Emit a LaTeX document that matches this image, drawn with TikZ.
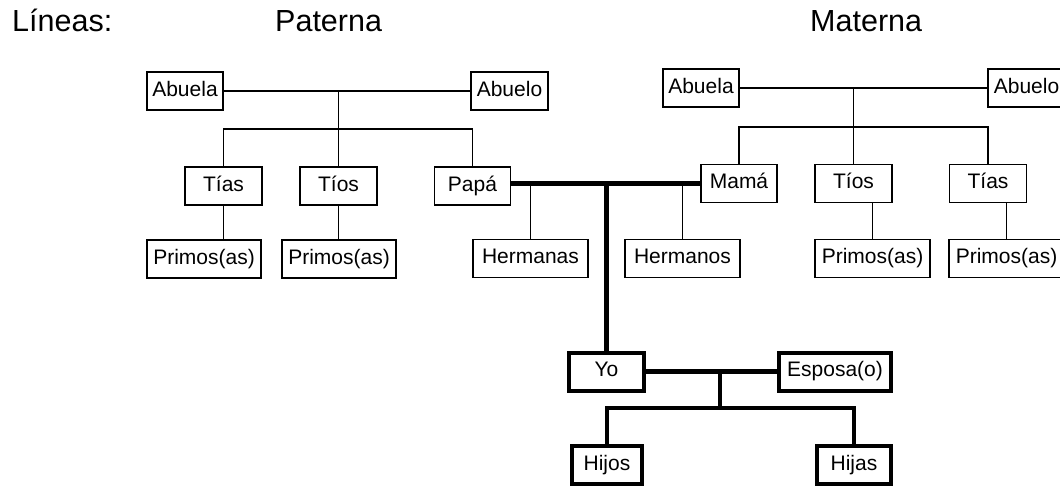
\documentclass[tikz,border=0pt]{standalone}
\usepackage{fontspec}
\setmainfont{Liberation Sans}
\begin{document}
\begin{tikzpicture}[x=1pt,y=-1pt,
  box/.style={draw=black,line width=1.3pt,rectangle,inner sep=0pt,minimum height=38pt,
    font=\fontsize{21}{24}\selectfont,text height=15pt,text depth=4.5pt,align=center},
  bbox/.style={box,line width=4pt},
  thin/.style={line width=1.3pt},
  heavy/.style={line width=4.5pt},
  title/.style={anchor=base west,inner sep=0pt,font=\fontsize{30.5}{34}\selectfont}]
\useasboundingbox (0,0) rectangle (1060,487);
\fill[white] (0,0) rectangle (1060,487);

% titles
\node[title] (tl) at (12,32) {Líneas:};
\node[title] (tp) at (275,32) {Paterna};
\node[title] (tm) at (810,32) {Materna};

% paternal
\node[box,minimum width=76pt] (pabuela) at (185,91) {Abuela};
\node[box,minimum width=77pt] (pabuelo) at (509.5,91) {Abuelo};
\node[box,minimum width=77pt] (ptias) at (223.5,186) {Tías};
\node[box,minimum width=77pt] (ptios) at (338.5,186) {Tíos};
\node[box,minimum width=76pt] (papa) at (472.5,186) {Papá};
\node[box,minimum width=114pt] (pprimos1) at (204,259) {Primos(as)};
\node[box,minimum width=114pt] (pprimos2) at (339,259) {Primos(as)};
\node[box,minimum width=115pt] (hermanas) at (530.5,258.5) {Hermanas};

% maternal
\node[box,minimum width=76pt] (mabuela) at (701,88) {Abuela};
\node[box,minimum width=77pt] (mabuelo) at (1026.5,88) {Abuelo};
\node[box,minimum width=76pt] (mama) at (739,183.5) {Mamá};
\node[box,minimum width=77pt] (mtios) at (853.5,183.5) {Tíos};
\node[box,minimum width=77pt] (mtias) at (988,183.5) {Tías};
\node[box,minimum width=115pt] (hermanos) at (682.5,258.5) {Hermanos};
\node[box,minimum width=115pt] (mprimos1) at (872.5,258.5) {Primos(as)};
\node[box,minimum width=115pt] (mprimos2) at (1006.5,258.5) {Primos(as)};

% own family
\node[bbox,minimum width=75pt] (yo) at (606.5,371.5) {Yo};
\node[bbox,minimum width=112pt] (esposa) at (835,371.5) {Esposa(o)};
\node[bbox,minimum width=70pt] (hijos) at (607,465) {Hijos};
\node[bbox,minimum width=74pt] (hijas) at (854,465) {Hijas};

% paternal connectors
\coordinate (pbar) at (338.5,129);
\draw[thin] (pabuela) -- (pabuelo);
\draw[thin] (ptios.north) -- (ptios.north |- pabuela.east);
\draw[thin] (ptias.north) -- (ptias.north |- pbar) -- (papa.north |- pbar) -- (papa.north);
\draw[thin] (ptias.south) -- (ptias.south |- pprimos1.north);
\draw[thin] (ptios.south) -- (ptios.south |- pprimos2.north);

% maternal connectors
\coordinate (mbar) at (853.5,127);
\draw[thin] (mabuela) -- (mabuelo);
\draw[thin] (mtios.north) -- (mtios.north |- mabuela.east);
\draw[thin] (mama.north) -- (mama.north |- mbar) -- (mtias.north |- mbar) -- (mtias.north);
\draw[thin] (mprimos1.north) -- (mprimos1.north |- mtios.south);
\draw[thin] (mprimos2.north) -- (mprimos2.north |- mtias.south);

% parents
\draw[heavy] (papa.east |- mama.west) -- (mama.west);
\draw[thin] (hermanas.north) -- (hermanas.north |- mama.west);
\draw[thin] (hermanos.north) -- (hermanos.north |- mama.west);
\draw[heavy] (yo.north |- mama.west) -- (yo.north);

% own family connectors
\coordinate (cbar) at (720,408);
\draw[heavy] (yo.east) -- (esposa.west);
\draw[heavy] (cbar |- yo.east) -- (cbar);
\draw[heavy] (hijos.north) -- (hijos.north |- cbar) -- (hijas.north |- cbar) -- (hijas.north);
\end{tikzpicture}
\end{document}
